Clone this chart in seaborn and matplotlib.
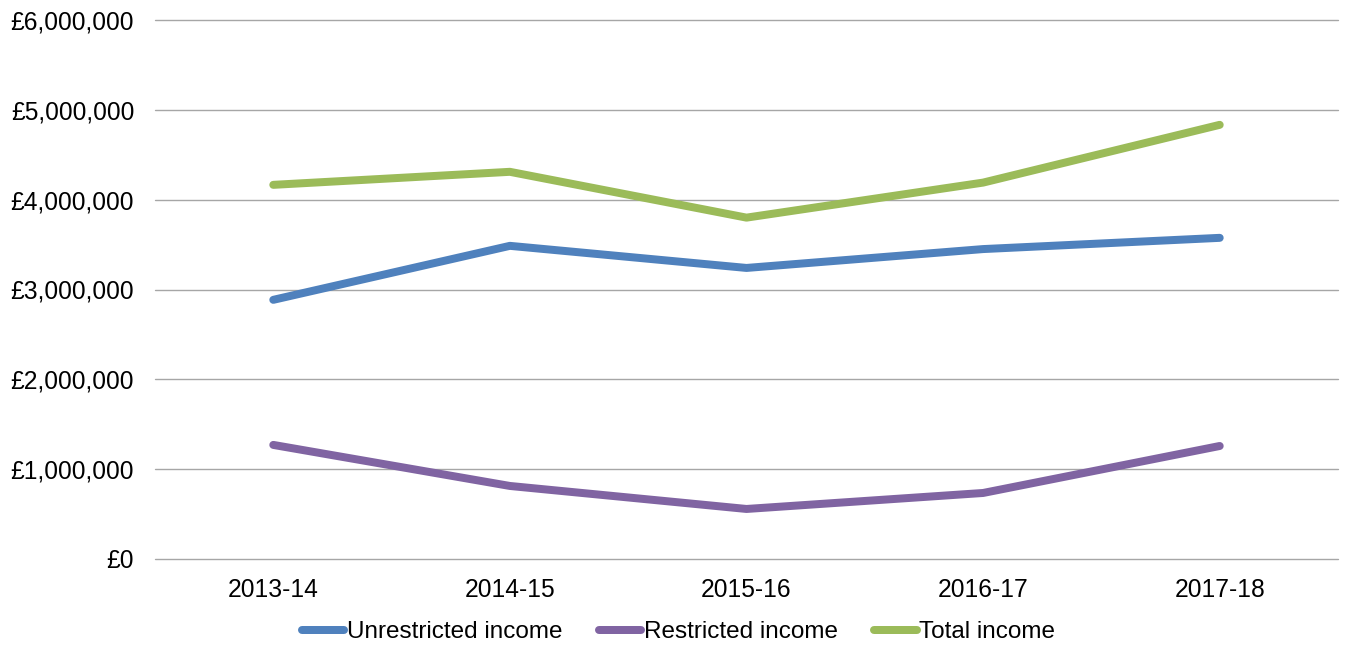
import matplotlib
matplotlib.use("Agg")
import matplotlib.pyplot as plt
import matplotlib.ticker as mticker
import pandas as pd
import seaborn as sns

years = ["2013-14", "2014-15", "2015-16", "2016-17", "2017-18"]
unrestricted = [2885000, 3486000, 3240000, 3450000, 3575000]
restricted = [1270000, 813000, 557000, 735000, 1258000]
total = [4165000, 4310000, 3800000, 4190000, 4833000]

series_names = ["Unrestricted income", "Restricted income", "Total income"]
colors = ["#4F81BD", "#8064A2", "#9BBB59"]

df = pd.DataFrame({"year": years * 3,
                   "value": unrestricted + restricted + total,
                   "series": [s for s in series_names for _ in years]})

sns.set_style("white")
plt.rcParams["font.family"] = ["Liberation Sans", "DejaVu Sans"]

fig = plt.figure(figsize=(13.49, 6.45), dpi=100)
ax = fig.add_axes([155/1349, 1-559/645, (1338-155)/1349, (559-20)/645])

sns.lineplot(data=df, x="year", y="value", hue="series", palette=colors,
             linewidth=5.75, ax=ax, sort=False, legend=True)

ax.set_ylim(0, 6000000)
ax.set_xlim(-0.5, 4.5)
ax.yaxis.set_major_locator(mticker.MultipleLocator(1000000))
ax.yaxis.set_major_formatter(mticker.FuncFormatter(lambda v, p: "£{:,.0f}".format(v)))
ax.grid(axis="y", color="#A6A6A6", linewidth=1)
ax.set_axisbelow(True)
for gl in ax.get_ygridlines():
    gl.set_clip_on(False)
for s in ax.spines.values():
    s.set_visible(False)
ax.tick_params(axis="both", length=0, labelsize=17.7, colors="black")
ax.tick_params(axis="y", pad=15)
ax.tick_params(axis="x", pad=14)
ax.set_xlabel("")
ax.set_ylabel("")

handles, labels = ax.get_legend_handles_labels()
ax.get_legend().remove()
leg = fig.legend(handles, labels, loc="center", bbox_to_anchor=(0.503, 1-632/645), ncol=3,
                 frameon=False, fontsize=17.5, handlelength=1.75, handletextpad=0.1,
                 columnspacing=1.5)
for t in leg.get_texts():
    t.set_color("black")

fig.savefig("out.png", dpi=100)
